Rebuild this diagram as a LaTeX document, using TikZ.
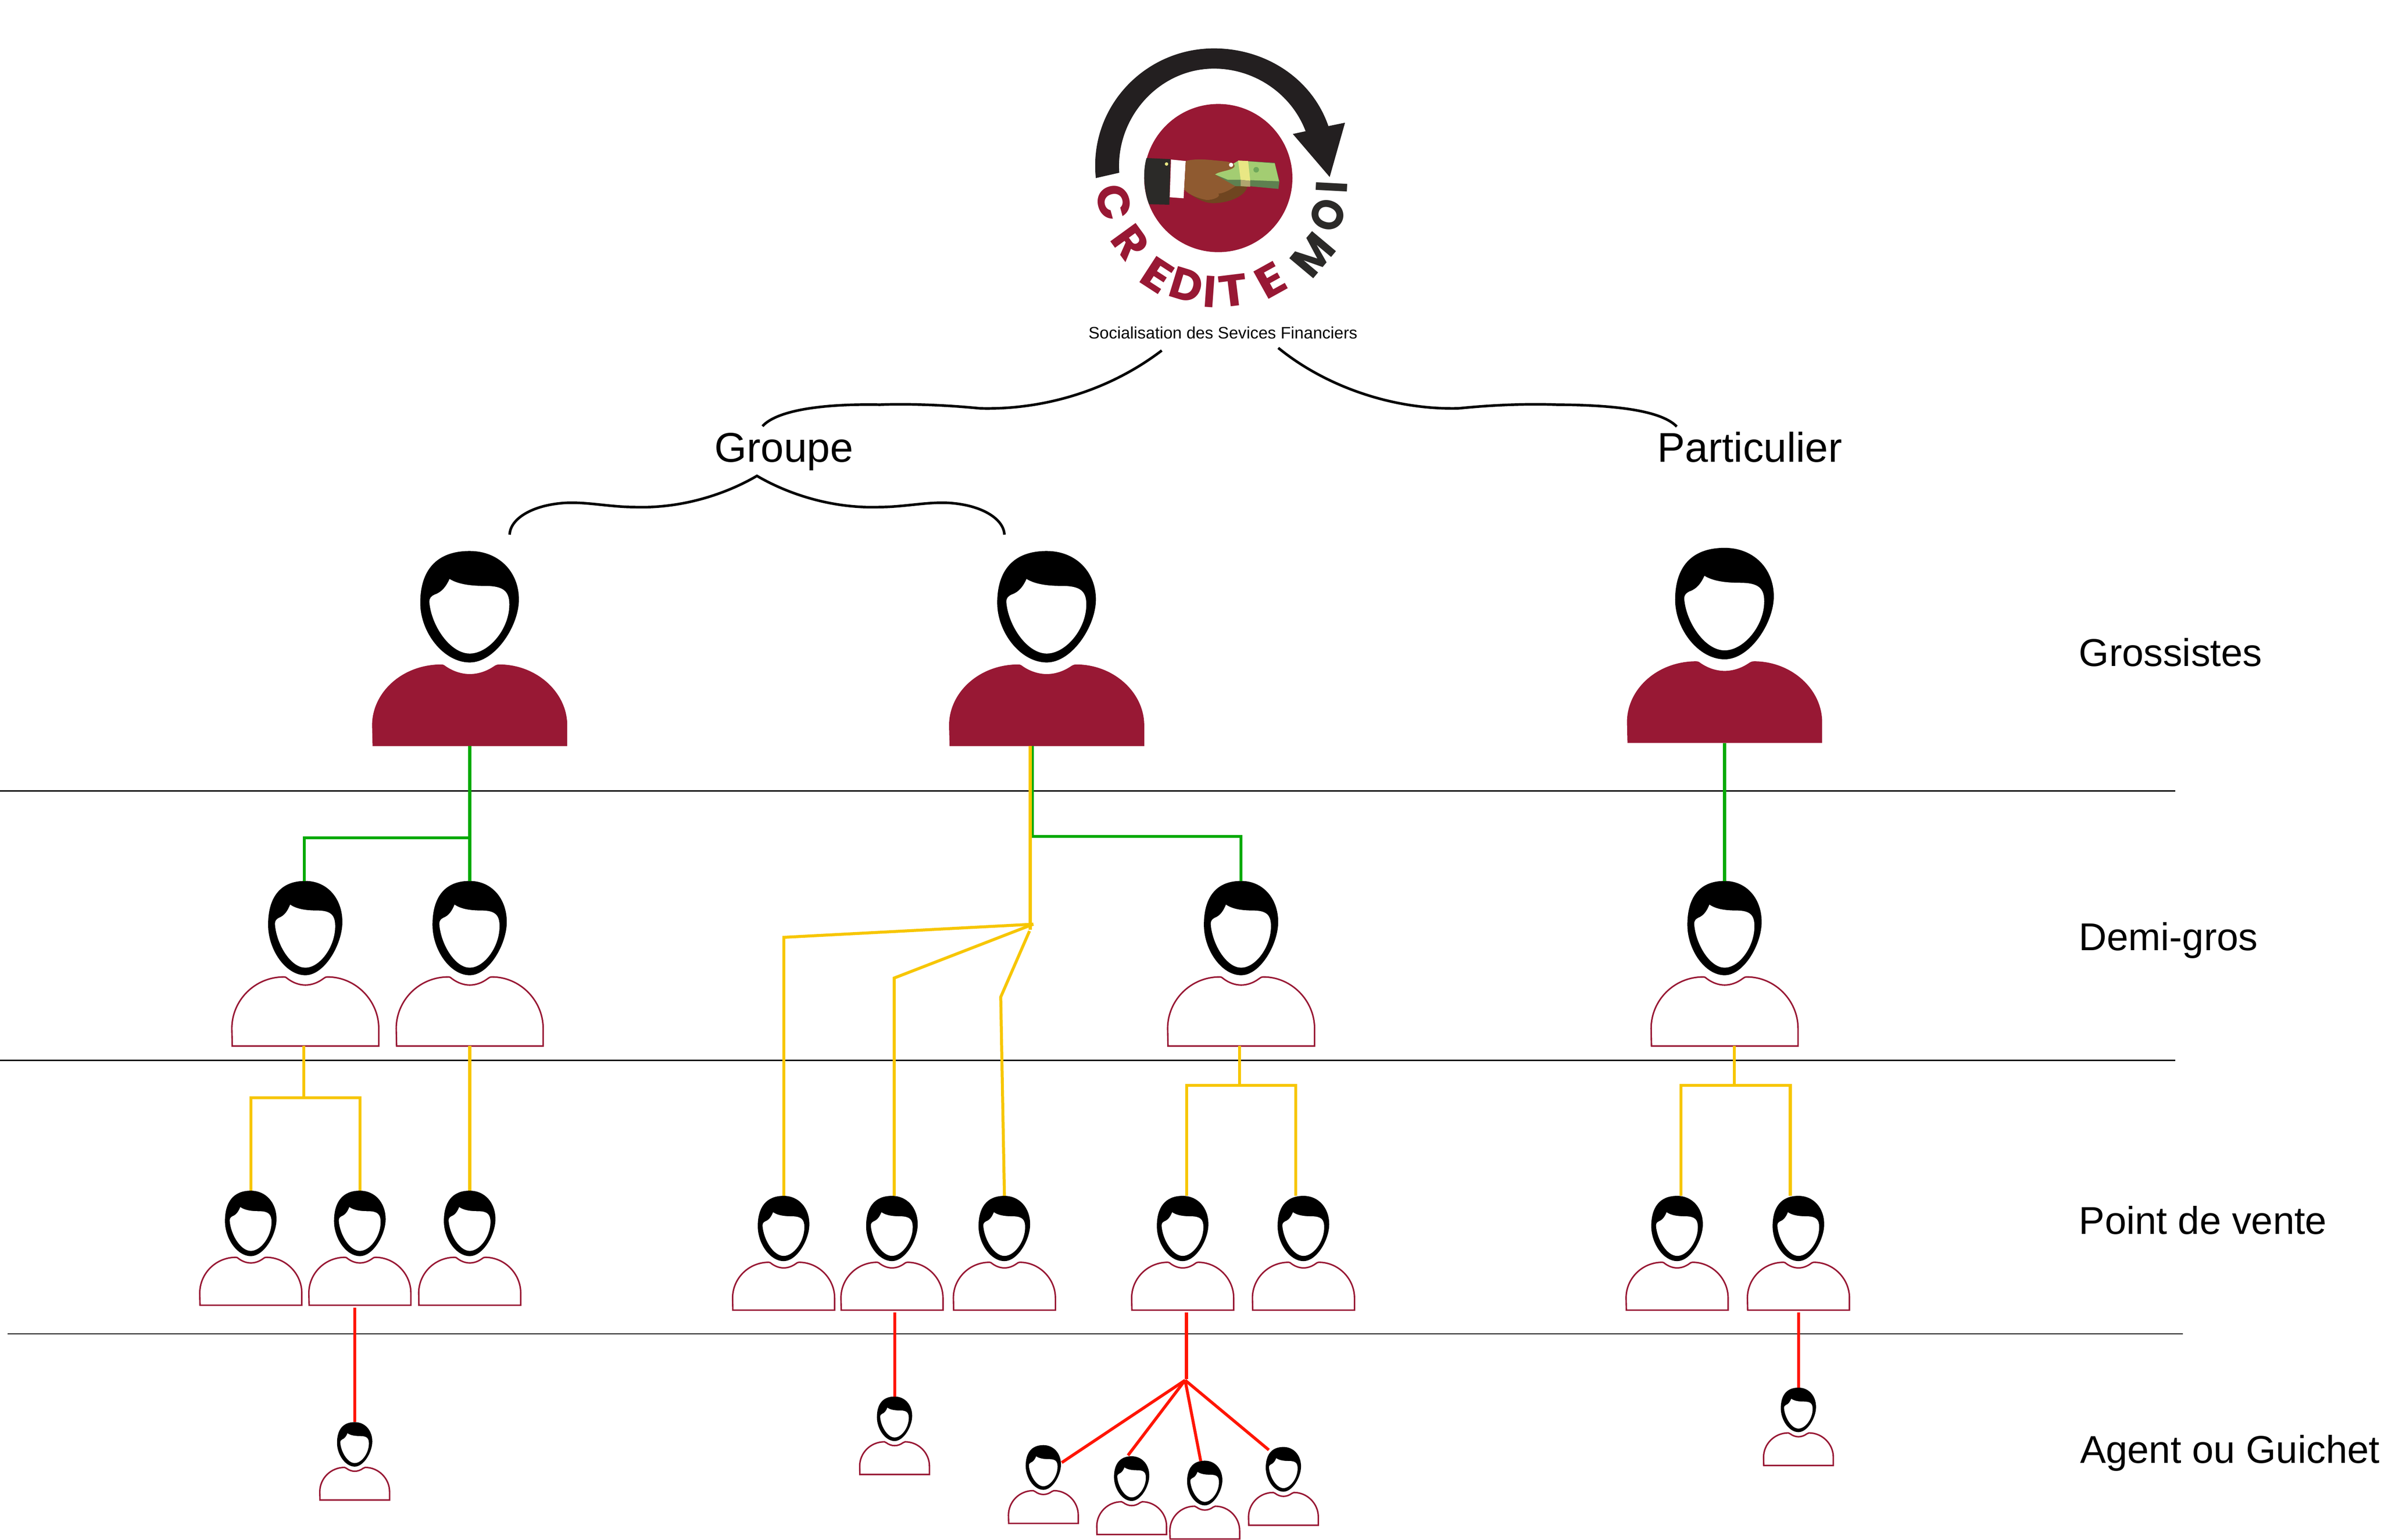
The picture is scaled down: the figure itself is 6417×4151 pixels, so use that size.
\documentclass[tikz,border=0pt]{standalone}
\usepackage{fontspec}
\setmainfont{Liberation Sans}
\newfontfamily\logofont{Poppins}
\definecolor{wine}{HTML}{981834}
\definecolor{inkk}{HTML}{231F20}
\definecolor{darkk}{HTML}{2B2A28}
\definecolor{linkgreen}{HTML}{06AA06}
\definecolor{linkyellow}{HTML}{F7C600}
\definecolor{linkred}{HTML}{FF1500}
\definecolor{handbrown}{HTML}{8F5A30}
\definecolor{handdark}{HTML}{6F4520}
\definecolor{billlight}{HTML}{A3CD72}
\definecolor{billdark}{HTML}{5E8050}
\definecolor{billband}{HTML}{E9E784}
\definecolor{billband2}{HTML}{B0A56E}
\definecolor{billmark}{HTML}{6FA85A}
\tikzset{
  bodyfull/.style={fill=wine},
  bodyline/.style={draw=wine,line width=.4pt,fill=white},
  greenlink/.style={draw=linkgreen,line width=.85pt},
  yellowlink/.style={draw=linkyellow,line width=.8pt},
  redlink/.style={draw=linkred,line width=.8pt},
  sepline/.style={draw=black,line width=.35pt},
  bracelink/.style={draw=black,line width=.7pt},
  biglabel/.style={inner sep=0,outer sep=0,anchor=base,font=\fontsize{11.2}{13}\selectfont},
  sidelabel/.style={inner sep=0,outer sep=0,anchor=base west,font=\fontsize{10.45}{13}\selectfont},
  logoletter/.style={inner sep=0,outer sep=0,font=\logofont\bfseries\fontsize{12}{13}\selectfont},
}
\newcommand\person[6]{%
  \node[inner sep=0,outer sep=0,minimum width=#4*.1pt,minimum height=#5*.1pt,anchor=north] (#1) at (#2,#3) {};
  \pgfmathsetmacro\psx{#4/1179}\pgfmathsetmacro\psy{#5/1178}
  \begin{scope}[shift={(#2,#3)},xscale=\psx,yscale=\psy,shift={(-707,-147)}]
    \fill[black] (707,147) .. controls (880,147) and (1004,270) .. (1004,440)
       .. controls (1004,600) and (860,820) .. (707,820)
       .. controls (550,820) and (408,640) .. (408,460)
       .. controls (408,270) and (500,147) .. (707,147) -- cycle;
    \fill[white] (585,316) .. controls (640,350) and (720,358) .. (800,358)
       .. controls (910,358) and (946,390) .. (946,470)
       .. controls (946,620) and (820,766) .. (707,766)
       .. controls (590,766) and (475,600) .. (463,455)
       .. controls (463,430) and (475,420) .. (495,410)
       .. controls (540,395) and (565,360) .. (585,316) -- cycle;
    \path[#6] (120,1325) -- (117,1200) .. controls (117,1000) and (300,832) .. (535,832)
       .. controls (550,832) and (555,838) .. (565,845)
       .. controls (610,875) and (660,890) .. (707,890)
       .. controls (755,890) and (805,875) .. (850,845)
       .. controls (860,838) and (870,832) .. (885,832)
       .. controls (1110,832) and (1296,1000) .. (1296,1200) -- (1296,1325) -- cycle;
  \end{scope}}
\begin{document}
\begin{tikzpicture}[x=.1pt,y=-.1pt]
\useasboundingbox (0,0) rectangle (6417,4151);
% separators
\coordinate (s1a) at (0,2132); \coordinate (s1b) at (5862,2132);
\coordinate (s2a) at (0,2859); \coordinate (s2b) at (5862,2859);
\coordinate (s3a) at (20,3596); \coordinate (s3b) at (5883,3596);
\draw[sepline] (s1a) -- (s1b);
\draw[sepline] (s2a) -- (s2b);
\draw[sepline] (s3a) -- (s3b);
% logo
\begin{scope}[shift={(2850,80)},scale=.574]
  \fill[inkk] (180,697) .. controls (145.5,369) and (405,88) .. (735,88)
     .. controls (974,88) and (1194,227) .. (1272,453) -- (1350,437) -- (1278,692) -- (1105,490) -- (1165,477)
     .. controls (1098,300) and (924,183) .. (735,183)
     .. controls (476,183) and (272,414) .. (290,672) -- cycle;
  \fill[wine] (755,697) circle[radius=348];
  \fill[darkk] (418,603) -- (530,608) -- (525,822) -- (430,820) .. controls (405,760) and (400,660) .. (418,603) -- cycle;
  \fill[white] (533,610) -- (602,617) -- (592,792) -- (527,787) -- cycle;
  \fill[billband] (512,631) circle[radius=8];
  \fill[handdark] (595,750) .. controls (640,790) and (690,815) .. (730,815) .. controls (790,815) and (880,790) .. (892,735) -- (800,700) -- cycle;
  \fill[handbrown] (602,617) .. controls (640,606) and (700,608) .. (760,617) -- (835,735) .. controls (800,760) and (770,770) .. (755,770) .. controls (770,785) and (730,800) .. (700,800) .. controls (650,790) and (610,770) .. (595,750) -- cycle;
  \fill[billdark] (740,680) -- (850,615) -- (1020,625) -- (1042,712) -- (1037,748) -- (900,735) -- (835,735) -- cycle;
  \fill[billlight] (740,680) -- (850,615) -- (1020,628) -- (1040,712) -- (860,705) -- (800,705) -- cycle;
  \fill[billband] (848,615) -- (895,617) -- (905,710) -- (860,705) -- cycle;
  \fill[billband2] (860,705) -- (905,710) -- (905,738) -- (860,735) -- cycle;
  \fill[billmark] (933,658) circle[radius=13];
  \fill[handbrown] (700,612) .. controls (760,617) and (830,615) .. (832,640) .. controls (830,660) and (770,662) .. (735,680) -- (680,680) -- cycle;
  \fill[white] (815,635) circle[radius=10];
  \node[logoletter,text=wine,rotate=-75,xscale=1.05] (lc) at (265,812) {C};
  \node[logoletter,text=wine,rotate=-54,xscale=1.05] (lr) at (342,1000) {R};
  \node[logoletter,text=wine,rotate=-33,xscale=1.15] (le) at (468,1152) {E};
  \node[logoletter,text=wine,rotate=-17] (ld) at (606,1200) {D};
  \node[logoletter,text=wine,rotate=-4] (li) at (715,1230) {I};
  \node[logoletter,text=wine,rotate=7,xscale=1.1] (lt) at (825,1225) {T};
  \node[logoletter,text=wine,rotate=29,xscale=1.15] (lee) at (1000,1176) {E};
  \node[logoletter,text=darkk,rotate=50] (lm) at (1198,1058) {M};
  \node[logoletter,text=darkk,rotate=71,xscale=.9] (lo) at (1268,870) {O};
  \node[logoletter,text=darkk,rotate=87] (lii) at (1287,740) {I};
\end{scope}
\node[inner sep=0,outer sep=0,anchor=base,font=\fontsize{4.48}{6}\selectfont] (slogan) at (3296,913) {Socialisation des Sevices Financiers};
% labels
\node[biglabel] (groupe) at (2113,1245) {Groupe};
\node[biglabel] (partic) at (4716,1245) {Particulier};
\node[sidelabel] (lgros) at (5603,1796) {Grossistes};
\node[sidelabel] (ldemi) at (5603,2562) {Demi-gros};
\node[sidelabel] (lpv) at (5603,3327) {Point de vente};
\node[sidelabel] (lag) at (5606,3945) {Agent ou Guichet};
% braces
\coordinate (b1a) at (3131,945); \coordinate (b1b) at (2055,1149);
\coordinate (b2a) at (3445,938); \coordinate (b2b) at (4519,1150);
\coordinate (b3p) at (2040,1283); \coordinate (b3l) at (1373.5,1441.5); \coordinate (b3r) at (2707,1441.5);
\draw[bracelink] (b1a) .. controls (2980,1060) and (2800,1105) .. (2642,1101)
   .. controls (2550,1092) and (2450,1088) .. (2371,1091)
   .. controls (2200,1088) and (2090,1110) .. (b1b);
\draw[bracelink] (b2a) .. controls (3570,1040) and (3750,1105) .. (3930,1101)
   .. controls (4020,1092) and (4110,1088) .. (4196,1091)
   .. controls (4370,1092) and (4480,1110) .. (b2b);
\draw[bracelink] (b3l) .. controls (1375,1400) and (1430,1365) .. (1509,1357)
   .. controls (1570,1350) and (1640,1367) .. (1708,1367)
   .. controls (1840,1372) and (1960,1330) .. (b3p)
   .. controls (2120,1330) and (2240,1372) .. (2372,1367)
   .. controls (2440,1367) and (2510,1350) .. (2571,1357)
   .. controls (2650,1365) and (2705,1400) .. (b3r);
% people
\person{g1}{1266}{1485.5}{526}{526}{bodyfull}
\person{g2}{2821}{1485.5}{526}{526}{bodyfull}
\person{g3}{4648}{1477}{526}{526}{bodyfull}
\person{d1}{823}{2375}{396}{445}{bodyline}
\person{d2}{1266}{2375}{396}{445}{bodyline}
\person{d3}{3345}{2375}{396}{445}{bodyline}
\person{d4}{4648}{2375}{396}{445}{bodyline}
\person{p1}{676}{3210}{275}{309}{bodyline}
\person{p2}{970}{3210}{275}{309}{bodyline}
\person{p3}{1266}{3210}{275}{309}{bodyline}
\person{p4}{2112}{3224}{275}{308}{bodyline}
\person{p5}{2404}{3224}{275}{308}{bodyline}
\person{p6}{2707}{3224}{275}{308}{bodyline}
\person{p7}{3187.5}{3224}{275}{308}{bodyline}
\person{p8}{3513}{3224}{275}{308}{bodyline}
\person{p9}{4520}{3224}{275}{308}{bodyline}
\person{p10}{4847}{3224}{275}{308}{bodyline}
\person{a1}{956}{3834}{188}{210}{bodyline}
\person{a2}{2411}{3765}{188}{210}{bodyline}
\person{a3}{2812}{3896}{188}{211}{bodyline}
\person{a4}{3050}{3926}{188}{211}{bodyline}
\person{a5}{3247}{3938}{188}{211}{bodyline}
\person{a6}{3459}{3901}{188}{211}{bodyline}
\person{a7}{4847}{3741}{188}{210}{bodyline}
% junctions
\coordinate (jg1) at (820,2259);
\coordinate (jg2) at (2782,2255);
\coordinate (jg2r) at (3344.7,2255);
\coordinate (jy) at (2776.5,2507);
\coordinate (jy0) at (2785,2491.6);
\coordinate (jyl) at (2112.6,2527);
\coordinate (jym) at (2410,2636.7);
\coordinate (jyr0) at (2774.6,2510);
\coordinate (jyr) at (2697,2688);
\coordinate (jd1) at (819,2959.6);
\coordinate (jd3) at (3341,2926);
\coordinate (jd4) at (4674,2926);
\coordinate (jr) at (3197.6,3718);
\coordinate (jr0) at (3194,3721);
% green
\draw[greenlink] (g1.south) -- (d2.north);
\draw[greenlink] (d1.north -| jg1) -- (jg1) -- (jg1 -| g1.south);
\draw[greenlink] (jg2 |- g2.south) -- (jg2) -- (jg2r) -- (d3.north -| jg2r);
\draw[greenlink] (g3.south) -- (d4.north);
% yellow
\draw[yellowlink] (jy |- g2.south) -- (jy);
\draw[yellowlink] (p4.north -| jyl) -- (jyl) -- (jy0);
\draw[yellowlink] (p5.north -| jym) -- (jym) -- (jy0);
\draw[yellowlink] (p6.north) -- (jyr) -- (jyr0);
\draw[yellowlink] (d1.south -| jd1) -- (jd1);
\draw[yellowlink] (p1.north) |- (jd1) -| (p2.north);
\draw[yellowlink] (d2.south) -- (p3.north);
\draw[yellowlink] (d3.south -| jd3) -- (jd3);
\coordinate (yd3l) at (3198,3224); \coordinate (yd3r) at (3491.6,3224);
\draw[yellowlink] (yd3l) |- (jd3) -| (yd3r);
\draw[yellowlink] (d4.south -| jd4) -- (jd4);
\coordinate (yd4l) at (4530,3224); \coordinate (yd4r) at (4825,3224);
\draw[yellowlink] (yd4l) |- (jd4) -| (yd4r);
% red
\draw[redlink] ([yshift=-.6pt]p2.south -| a1.north) -- (a1.north);
\draw[redlink] ([yshift=-.6pt]p5.south -| a2.north) -- (a2.north);
\draw[redlink] ([yshift=-.6pt]p7.south -| jr) -- (jr);
\draw[redlink] ([yshift=-.6pt]p10.south -| a7.north) -- (a7.north);
\coordinate (ra3) at (2861.5,3943); \coordinate (ra4) at (3040,3923.6);
\coordinate (ra5) at (3236,3939); \coordinate (ra6) at (3419.6,3909);
\draw[redlink] (jr0) -- (ra3);
\draw[redlink] (jr0) -- (ra4);
\draw[redlink] (jr0) -- (ra5);
\draw[redlink] (jr0) -- (ra6);
\end{tikzpicture}
\end{document}
